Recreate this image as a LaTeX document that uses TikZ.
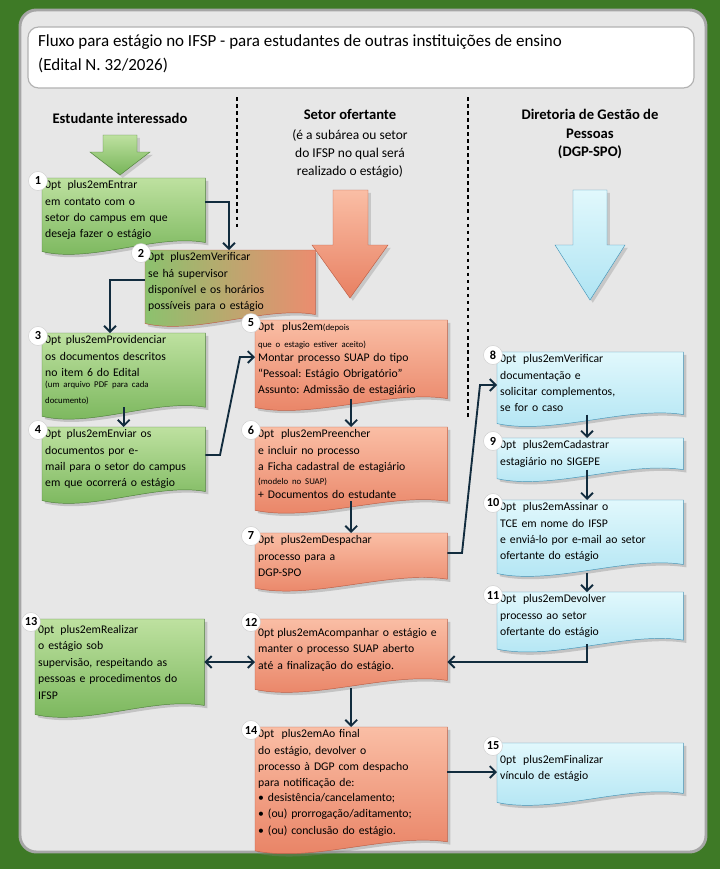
\documentclass[tikz,border=0pt]{standalone}
\usepackage{fontspec}
\setmainfont{Carlito}
\usetikzlibrary{arrows.meta,calc,shadows}
\pgfdeclarelayer{bottom}
\pgfdeclarelayer{background}
\pgfsetlayers{bottom,background,main}

\definecolor{frameGreen}{RGB}{62,122,38}
\definecolor{panelGray}{RGB}{231,231,231}
\definecolor{navy}{RGB}{18,44,62}
\definecolor{greenT}{RGB}{190,225,160}
\definecolor{greenB}{RGB}{118,180,88}
\definecolor{greenD}{RGB}{80,130,60}
\definecolor{orangeT}{RGB}{250,190,165}
\definecolor{orangeB}{RGB}{232,128,98}
\definecolor{orangeD}{RGB}{190,95,70}
\definecolor{blueT}{RGB}{225,248,252}
\definecolor{blueB}{RGB}{175,228,243}
\definecolor{blueD}{RGB}{70,150,185}

\tikzset{
  stepnode/.style={inner sep=2pt, align=center,
    font=\fontsize{10}{14}\selectfont\frenchspacing\hyphenpenalty=10000\exhyphenpenalty=10000},
  num/.style={circle, fill=white, draw=gray!40, inner sep=0pt, minimum size=19*0.03cm,
    font=\fontsize{10.5}{10.5}\selectfont\bfseries},
  gbox/.style={top color=greenT, bottom color=greenB, draw=greenD},
  obox/.style={top color=orangeT, bottom color=orangeB, draw=orangeD},
  bbox/.style={top color=blueT, bottom color=blueB, draw=blueD},
  mbox/.style={left color=greenB!70!greenT, right color=orangeB!80!orangeT, draw=orangeD},
  flow/.style={draw=navy, line width=1.6pt, -{Straight Barb[length=5pt,width=10pt]}},
  head/.style={font=\fontsize{12.5}{16}\selectfont\bfseries, align=center},
}

% name, north west, width, height, look, number, text
\newcommand{\stepbox}[7]{%
  \pgfmathsetmacro\tw{(#3-6)*0.03}
  \node[stepnode, anchor=north west, minimum width=#3*0.03cm, minimum height=#4*0.03cm,
    text width=\tw cm] (#1) at (#2) {#7};
  \begin{pgfonlayer}{background}
    \path[#5, drop shadow={opacity=0.35}] (#1.north west) -- (#1.north east) -- (#1.south east)
      .. controls +(-0.3*#3,-9) and +(0.3*#3,12) .. ($(#1.south west)+(0,9)$) -- cycle;
  \end{pgfonlayer}
  \node[num] at ($(#1.north west)+(-4,3)$) {#6};
}

\begin{document}
\begin{tikzpicture}[x=0.03cm, y=-0.03cm]
\begin{pgfonlayer}{bottom}
  \fill[frameGreen] (0,0) rectangle (720,869);
  \draw[panelGray, fill=panelGray, draw=gray!70, line width=2.5pt, rounded corners=14pt] (20,10) rectangle (706,852);
  \draw[fill=white, draw=gray!60, line width=1pt, rounded corners=9pt] (28,27) rectangle (694,88);
\end{pgfonlayer}

% title and column heads
\node[anchor=north west, align=left, font=\fontsize{14.5}{20}\selectfont] (title) at (34,31)
  {Fluxo para estágio no IFSP - para estudantes de outras instituições de ensino\\(Edital N. 32/2026)};
\node[head] (hStud) at (120,118) {Estudante interessado};
\node[head, anchor=north] (hSetor) at (350,105) {Setor ofertante};
\node[anchor=north, align=center, font=\fontsize{11.5}{15}\selectfont] (hSetorSub) at (350,126)
  {(é a subárea ou setor\\do IFSP no qual será\\realizado o estágio)};
\node[head, anchor=north] (hDgp) at (590,105) {Diretoria de Gestão de\\Pessoas\\(DGP-SPO)};

% separators
\draw[dashed, line width=1pt] (237,97) -- (237,228);
\draw[dashed, line width=1pt] (468,97) -- (468,420);

% big arrows
\path[gbox, drop shadow={opacity=0.3}] (103,135) -- (137,135) -- (137,152) -- (150,152) -- (120,175) -- (90,152) -- (103,152) -- cycle;
\path[obox, drop shadow={opacity=0.3}] (333,190) -- (368,190) -- (368,245) -- (388,245) -- (350,298) -- (312,245) -- (333,245) -- cycle;
\path[bbox, drop shadow={opacity=0.3}] (573,190) -- (607,190) -- (607,245) -- (625,245) -- (590,300) -- (555,245) -- (573,245) -- cycle;

% steps
\stepbox{s1}{42,178}{163}{54}{gbox}{1}{Entrar em contato com o\\setor do campus em que\\deseja fazer o estágio}
\stepbox{s2}{145,250}{170}{50}{mbox}{2}{Verificar se há supervisor\\disponível e os horários\\possíveis para o estágio}
\stepbox{s3}{42,333}{163}{52}{gbox}{3}{Providenciar os documentos descritos no item 6 do Edital\\[-2pt]{\fontsize{7.5}{11}\selectfont (um arquivo PDF para cada\\documento)}}
\stepbox{s4}{42,427}{163}{55}{gbox}{4}{Enviar os documentos por e-\\mail para o setor do campus\\em que ocorrerá o estágio}
\stepbox{s5}{255,320}{192}{68}{obox}{5}{{\fontsize{7.5}{11}\selectfont (depois que o estagio estiver aceito)}\\[-2pt]Montar processo SUAP do tipo\\“Pessoal: Estágio Obrigatório”\\Assunto: Admissão de estagiário}
\stepbox{s6}{255,427}{192}{65}{obox}{6}{Preencher e incluir no processo\\a Ficha cadastral de estagiário\\[-2pt]{\fontsize{7.5}{11}\selectfont (modelo no SUAP)}\\[-2pt]+ Documentos do estudante}
\stepbox{s7}{255,533}{192}{40}{obox}{7}{Despachar processo para a\\DGP-SPO}
\stepbox{s8}{497,352}{186}{50}{bbox}{8}{Verificar documentação e\\solicitar complementos,\\se for o caso}
\stepbox{s9}{497,438}{186}{30}{bbox}{9}{Cadastrar estagiário no SIGEPE}
\stepbox{s10}{497,500}{186}{55}{bbox}{10}{Assinar o TCE em nome do IFSP\\e enviá-lo por e-mail ao setor\\ofertante do estágio}
\stepbox{s11}{497,592}{186}{43}{bbox}{11}{Devolver processo ao setor\\ofertante do estágio}
\stepbox{s12}{255,619}{192}{61}{obox}{12}{Acompanhar o estágio e\\manter o processo SUAP aberto\\até a finalização do estágio.}
\stepbox{s13}{35,619}{169}{86}{gbox}{13}{Realizar o estágio sob\\supervisão, respeitando as\\pessoas e procedimentos do\\IFSP}
\stepbox{s14}{255,727}{192}{108}{obox}{14}{Ao final do estágio, devolver o\\processo à DGP com despacho\\para notificação de:\\
  \begin{tabular}{@{}l@{}}
  \textbullet\ desistência/cancelamento;\\
  \textbullet\ (ou) prorrogação/aditamento;\\
  \textbullet\ (ou) conclusão do estágio.
  \end{tabular}}
\stepbox{s15}{497,743}{186}{50}{bbox}{15}{Finalizar vínculo de estágio}

% bend points
\coordinate (b12) at (229,202);
\coordinate (b23) at (110,280);
\coordinate (b45a) at (220,455);
\coordinate (b45b) at (240,357);
\coordinate (b78a) at (462,553);
\coordinate (b78b) at (480,385);
\coordinate (b1112) at (587,662);

% connectors
\draw[flow] (s1.east |- b12) -| (s2.north -| b12);
\draw[flow] (s2.west |- b23) -| (s3.north -| b23);
\draw[flow] (s3) -- (s4);
\draw[flow] (s4.east |- b45a) -- (b45a) -- (b45b) -- (s5.west |- b45b);
\draw[flow] (s5) -- (s6);
\draw[flow] (s6) -- (s7);
\draw[flow] (s7.east |- b78a) -- (b78a) -- (b78b) -- (s8.west |- b78b);
\draw[flow] (s8.south -| b1112) -- (s9.north -| b1112);
\draw[flow] (s9.south -| b1112) -- (s10.north -| b1112);
\draw[flow] (s10.south -| b1112) ++(0,8) -- (s11.north -| b1112);
\draw[flow] (s11.south -| b1112) ++(0,4) -- (b1112) -- (s12.east |- b1112);
\draw[flow, {Straight Barb[length=5pt,width=10pt]}-{Straight Barb[length=5pt,width=10pt]}] (s13.east |- b1112) -- (s12.west |- b1112);
\draw[flow] (s12.south) ++(0,8) -- (s14.north);
\draw[flow] (s14.east |- 0,772) -- (s15.west |- 0,772);
\end{tikzpicture}
\end{document}
